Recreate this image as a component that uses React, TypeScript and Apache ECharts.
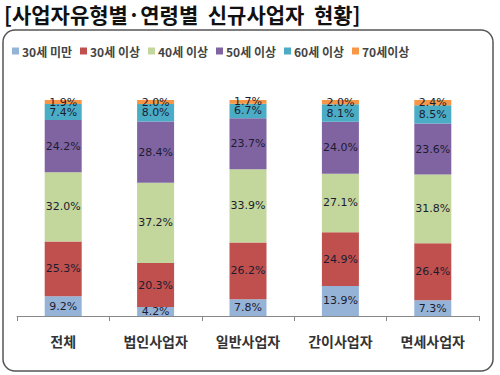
import React, { useEffect, useRef } from "react";
import * as echarts from "echarts";

const categories = ["전체", "법인사업자", "일반사업자", "간이사업자", "면세사업자"];
const seriesNames = ["30세 미만", "30세 이상", "40세 이상", "50세 이상", "60세 이상", "70세이상"];
const under30 = [9.2, 4.2, 7.8, 13.9, 7.3];
const age30 = [25.3, 20.3, 26.2, 24.9, 26.4];
const age40 = [32.0, 37.2, 33.9, 27.1, 31.8];
const age50 = [24.2, 28.4, 23.7, 24.0, 23.6];
const age60 = [7.4, 8.0, 6.7, 8.1, 8.5];
const age70 = [1.9, 2.0, 1.7, 2.0, 2.4];
const seriesValues = [under30, age30, age40, age50, age60, age70];
const colors = ["#95B3D7", "#C0504D", "#C3D69B", "#8064A2", "#4BACC6", "#F79646"];

export default function App() {
  const ref = useRef<HTMLDivElement>(null);
  useEffect(() => {
    document.body.style.margin = "0";
    const chart = echarts.init(ref.current!, null, { renderer: "svg" });
    const font = "'Noto Sans CJK KR', sans-serif";
    chart.setOption({
      animation: false,
      textStyle: { fontFamily: font },
      title: {
        text: "[사업자유형별·연령별  신규사업자  현황]",
        left: 4,
        top: 2,
        padding: 0,
        textStyle: { fontSize: 21, fontWeight: "bold", color: "#111", fontFamily: font, lineHeight: 24 },
      },
      graphic: [
        {
          type: "rect",
          shape: { x: 3, y: 30, width: 490, height: 341, r: 12 },
          style: { fill: "none", stroke: "#555", lineWidth: 1.5 },
        },
      ],
      legend: {
        left: 7,
        top: 40,
        itemWidth: 7,
        itemHeight: 7,
        itemGap: 8,
        icon: "rect",
        textStyle: { fontSize: 12, color: "#444", fontWeight: "bold", fontFamily: font, padding: [0, 0, 0, -2] },
        data: seriesNames,
      },
      grid: { left: 17, right: 21, top: 100, bottom: 59 },
      xAxis: {
        type: "category",
        data: categories,
        axisLine: { lineStyle: { color: "#888" } },
        axisTick: { show: true, length: 5, lineStyle: { color: "#888" } },
        axisLabel: { fontSize: 14, color: "#333", margin: 18, fontWeight: "bold", fontFamily: font },
      },
      yAxis: { type: "value", min: 0, max: 100, show: false, splitLine: { show: false } },
      series: seriesNames.map((name, i) => ({
        name,
        type: "bar",
        stack: "total",
        barWidth: 37,
        data: seriesValues[i],
        itemStyle: { color: colors[i] },
        label: {
          show: true,
          position: "inside",
          formatter: (p: any) => p.value.toFixed(1) + "%",
          fontSize: 11,
          color: "#1c1c30",
          fontFamily: "'DejaVu Sans', sans-serif",
        },
      })),
    });
    return () => chart.dispose();
  }, []);
  return <div ref={ref} style={{ width: 500, height: 375 }} />;
}
